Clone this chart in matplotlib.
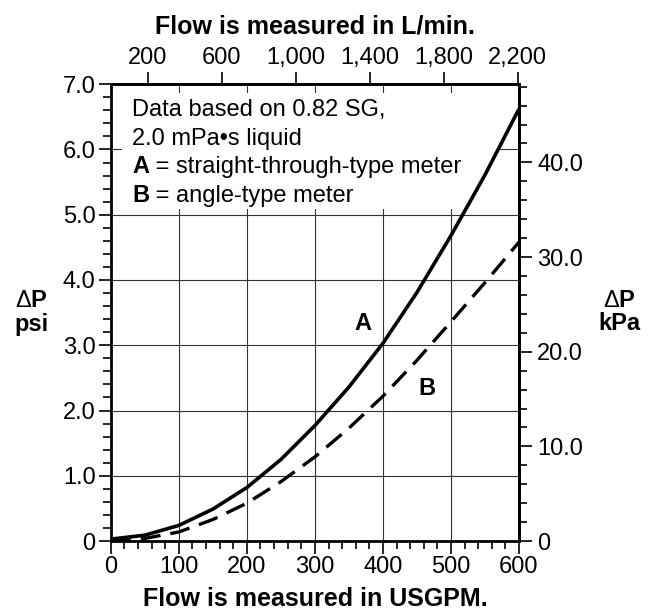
import matplotlib
matplotlib.use("Agg")
import matplotlib.pyplot as plt
from matplotlib.patches import Rectangle
from matplotlib.ticker import MultipleLocator, FixedLocator, FuncFormatter

plt.rcParams['font.family'] = ['Liberation Sans', 'DejaVu Sans']
plt.rcParams['mathtext.fontset'] = 'custom'
plt.rcParams['mathtext.rm'] = 'Liberation Sans'

# flow in USGPM, pressure drop in psi
flow_a = [0, 50, 100, 150, 200, 250, 300, 350, 400, 450, 500, 550, 600]
dp_a = [0.03, 0.09, 0.24, 0.49, 0.82, 1.25, 1.77, 2.36, 3.03, 3.81, 4.68, 5.61, 6.62]
flow_b = [0, 50, 100, 150, 200, 250, 300, 350, 400, 450, 500, 550, 600]
dp_b = [0.0, 0.04, 0.14, 0.33, 0.58, 0.91, 1.29, 1.73, 2.22, 2.77, 3.36, 3.96, 4.58]

top_ticks = [200, 600, 1000, 1400, 1800, 2200]   # L/min
right_ticks = [0, 10, 20, 30, 40]                # kPa
note_lines = [("", "Data based on 0.82 SG,"), ("", "2.0 mPa\u2022s liquid"),
              ("A", " = straight-through-type meter"), ("B", " = angle-type meter")]

LPM_PER_GPM = 3.68
KPA_PER_PSI = 6.895
FS = 17
FS_T = 18

fig = plt.figure(figsize=(6.52, 6.10), dpi=100)
ax = fig.add_axes([0.170, 0.113, 0.626, 0.749])

ax.plot(flow_a, dp_a, color='black', lw=2.6, solid_capstyle='butt', zorder=3)
ax.plot(flow_b, dp_b, color='black', lw=2.4, linestyle=(0, (6, 3)), zorder=3)

ax.set_xlim(0, 600)
ax.set_ylim(0, 7)
ax.xaxis.set_major_locator(MultipleLocator(100))
ax.xaxis.set_minor_locator(MultipleLocator(20))
ax.yaxis.set_major_locator(MultipleLocator(1))
ax.yaxis.set_minor_locator(MultipleLocator(0.2))
ax.yaxis.set_major_formatter(FuncFormatter(lambda v, p: "0" if v == 0 else f"{v:.1f}"))
ax.grid(True, which='major', color='#333333', lw=0.8)
ax.set_axisbelow(True)
for s in ax.spines.values():
    s.set_linewidth(2)
ax.tick_params(which='major', length=9, width=1.2, labelsize=FS, pad=2)
ax.tick_params(which='minor', length=6, width=1.2)

ax.set_xlabel("Flow is measured in USGPM.", fontsize=FS_T, fontweight='bold', labelpad=6)
ax.set_ylabel("$\\Delta$P\npsi", fontsize=FS, fontweight='bold', rotation=0,
              va='center', ha='center', linespacing=1.05)
ax.yaxis.set_label_coords(-0.194, 0.5)

top = ax.secondary_xaxis('top', functions=(lambda g: g * LPM_PER_GPM, lambda l: l / LPM_PER_GPM))
top.xaxis.set_major_locator(FixedLocator(top_ticks))
top.xaxis.set_major_formatter(FuncFormatter(lambda v, p: f"{int(v):,}"))
top.tick_params(length=9, width=1.2, labelsize=FS, pad=2)
top.set_xlabel("Flow is measured in L/min.", fontsize=FS_T, fontweight='bold', labelpad=10)
top.spines['top'].set_linewidth(2)

right = ax.secondary_yaxis('right', functions=(lambda p: p * KPA_PER_PSI, lambda k: k / KPA_PER_PSI))
right.yaxis.set_major_locator(FixedLocator(right_ticks))
right.yaxis.set_minor_locator(MultipleLocator(2))
right.yaxis.set_major_formatter(FuncFormatter(lambda v, p: "0" if v == 0 else f"{v:.1f}"))
right.tick_params(which='major', length=9, width=1.2, labelsize=FS, pad=4)
right.tick_params(which='minor', length=6, width=1.2)
right.spines['right'].set_linewidth(2)
fig.text(619 / 652, 1 - 312 / 610, "$\\Delta$P\nkPa", fontsize=FS, fontweight='bold',
         ha='center', va='center', linespacing=1.05)

# white panel behind the note hides the grid
ax.add_patch(Rectangle((16, 5.08), 556, 1.78, facecolor='white', edgecolor='none', zorder=1.5))
for i, (key, rest) in enumerate(note_lines):
    y = 6.6 - i * 0.433
    if key:
        t = ax.text(31, y, key, fontsize=FS, fontweight='bold', va='center', zorder=4)
        ax.annotate(rest, xy=(1, 0), xycoords=t, va='bottom', ha='left', fontsize=FS, zorder=4)
    else:
        ax.text(31, y, rest, fontsize=FS, va='center', zorder=4)

ax.text(370, 3.34, "A", fontsize=FS, fontweight='bold', ha='center', va='center')
ax.text(465, 2.34, "B", fontsize=FS, fontweight='bold', ha='center', va='center')

fig.savefig("out.png", dpi=100)
